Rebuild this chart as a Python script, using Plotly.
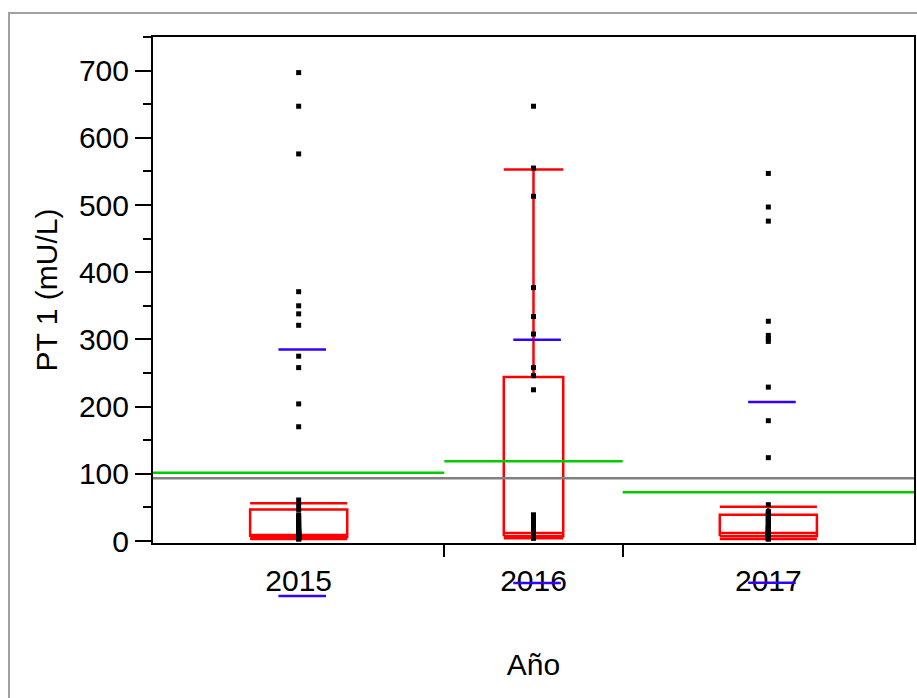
import plotly.graph_objects as go

# ---------------- data ----------------
years = ["2015", "2016", "2017"]

pt_2015 = [697, 647, 576, 371, 350, 338, 321, 275, 258, 204, 170, 61, 54, 47,
           39, 36, 33, 30, 28, 26, 24, 22, 20, 18, 17, 16, 15, 14, 13, 12, 11,
           10, 10, 9, 9, 8, 8, 7, 7, 6, 6, 6, 5, 5, 5, 4, 4, 3, 3]
pt_2016 = [647, 555, 513, 377, 334, 308, 258, 246, 225,
           39, 35, 31, 27, 24, 21, 19, 17, 15, 14, 13, 12, 11, 10, 9, 8, 7, 6,
           5, 5, 4]
pt_2017 = [547, 497, 476, 327, 306, 301, 297, 229, 179, 124, 54,
           44, 42, 40, 38, 36, 34, 32, 30, 28, 26, 24, 22, 20, 19, 18, 17, 16,
           15, 14, 13, 12, 11, 10, 10, 9, 9, 8, 8, 7, 7, 6, 6, 5, 5, 4, 4, 3, 3]

box_lo = [3, 4, 3]
box_q1 = [6, 7, 7]
box_med = [9, 12, 12]
box_q3 = [47, 244, 39]
box_hi = [56, 553, 51]

group_mean = [101.6, 118.5, 72.5]
group_sd = [183.5, 181.0, 134.5]
grand_mean = 93.5

y_ticks = [0, 100, 200, 300, 400, 500, 600, 700]
y_range = [-3, 750]

# ---------------- layout helpers ----------------
groups = [pt_2015, pt_2016, pt_2017]
sizes = [len(g) for g in groups]
edges = [0]
for n in sizes:
    edges.append(edges[-1] + n)
centers = [(edges[i] + edges[i + 1]) / 2 for i in range(3)]
half_w = [n / 6 for n in sizes]

RED = "#ff0000"
GREEN = "#00cc00"
GRAY = "#808080"
BLUE = "#3300ff"
FONT = "Liberation Sans, Arial, sans-serif"

# main frame occupies the upper part of the plotting area; an invisible
# companion axis with the same scale extends below it so that the
# mean - sd marks can be drawn under the frame as in the reference
MAIN_BOTTOM = 0.1169
y2_low = y_range[0] - (y_range[1] - y_range[0]) * MAIN_BOTTOM / (1 - MAIN_BOTTOM)

fig = go.Figure()

# boxes (outlier box plots)
for i in range(3):
    c, w = centers[i], half_w[i]
    xs = [c - w, c + w, c + w, c - w, c - w, None,
          c - w, c + w, None,
          c, c, None, c, c, None,
          c - w, c + w, None, c - w, c + w]
    ys = [box_q1[i], box_q1[i], box_q3[i], box_q3[i], box_q1[i], None,
          box_med[i], box_med[i], None,
          box_q3[i], box_hi[i], None, box_q1[i], box_lo[i], None,
          box_hi[i], box_hi[i], None, box_lo[i], box_lo[i]]
    fig.add_trace(go.Scatter(x=xs, y=ys, mode="lines",
                             line=dict(color=RED, width=2.5),
                             hoverinfo="skip", showlegend=False))

# grand mean line
fig.add_trace(go.Scatter(x=[edges[0], edges[-1]], y=[grand_mean, grand_mean],
                         mode="lines", line=dict(color=GRAY, width=2.5),
                         showlegend=False, hoverinfo="skip"))

# group mean lines
for i in range(3):
    fig.add_trace(go.Scatter(x=[edges[i], edges[i + 1]],
                             y=[group_mean[i], group_mean[i]],
                             mode="lines", line=dict(color=GREEN, width=2.5),
                             showlegend=False, hoverinfo="skip"))

# points
for i in range(3):
    fig.add_trace(go.Scatter(x=[centers[i]] * sizes[i], y=groups[i],
                             mode="markers",
                             marker=dict(symbol="square", size=5, color="black"),
                             showlegend=False, name=years[i]))

# std dev marks (mean +/- sd) on the companion axes
sd_x, sd_y = [], []
for i in range(3):
    for s in (1, -1):
        sd_x.append(centers[i] + 0.6)
        sd_y.append(group_mean[i] + s * group_sd[i])
fig.add_trace(go.Scatter(x=sd_x, y=sd_y, mode="markers", xaxis="x2", yaxis="y2",
                         marker=dict(symbol="line-ew", size=34,
                                     line=dict(color=BLUE, width=2.5)),
                         showlegend=False, hoverinfo="skip"))

fig.update_layout(
    width=917, height=698,
    margin=dict(l=153, r=3, t=37, b=88),
    paper_bgcolor="white", plot_bgcolor="rgba(0,0,0,0)",
    font=dict(family=FONT, size=30, color="black"),
    xaxis=dict(
        range=[edges[0], edges[-1]], domain=[0, 1], anchor="y",
        tickmode="array", tickvals=centers, ticktext=years,
        ticks="", showgrid=False, zeroline=False, automargin=False,
        showline=True, linecolor="black", linewidth=2, mirror=True,
        tickfont=dict(size=30), ticklabelstandoff=10,
        minor=dict(tickmode="array", tickvals=edges[1:-1], ticks="outside",
                   ticklen=12, tickwidth=2, tickcolor="black", showgrid=False),
        title=dict(text="Año", font=dict(size=30), standoff=58),
    ),
    yaxis=dict(
        range=y_range, domain=[MAIN_BOTTOM, 1], anchor="x",
        tickmode="array", tickvals=y_ticks,
        ticks="outside", ticklen=16, tickwidth=2, tickcolor="black",
        minor=dict(dtick=50, tick0=0, ticks="outside", ticklen=8,
                   tickwidth=2, tickcolor="black", showgrid=False),
        showgrid=False, zeroline=False, automargin=False,
        showline=True, linecolor="black", linewidth=2, mirror=True,
        tickfont=dict(size=30), ticklabelstandoff=0,
        title=dict(text="PT 1 (mU/L)", font=dict(size=30), standoff=12),
    ),
    xaxis2=dict(range=[edges[0], edges[-1]], domain=[0, 1], anchor="y2",
                visible=False, showgrid=False, zeroline=False),
    yaxis2=dict(range=[y2_low, y_range[1]], domain=[0, 1], anchor="x2",
                visible=False, showgrid=False, zeroline=False),
    shapes=[dict(type="rect", xref="paper", yref="paper",
                 x0=-0.1892, x1=1.05, y0=-0.3, y1=1.0419,
                 line=dict(color="#a0a0a0", width=2), layer="below")],
)

fig.write_html(
    "out.html",
    config={"displayModeBar": False},
    post_script="document.body.style.margin='0px';"
                "document.body.style.overflow='hidden';",
)
